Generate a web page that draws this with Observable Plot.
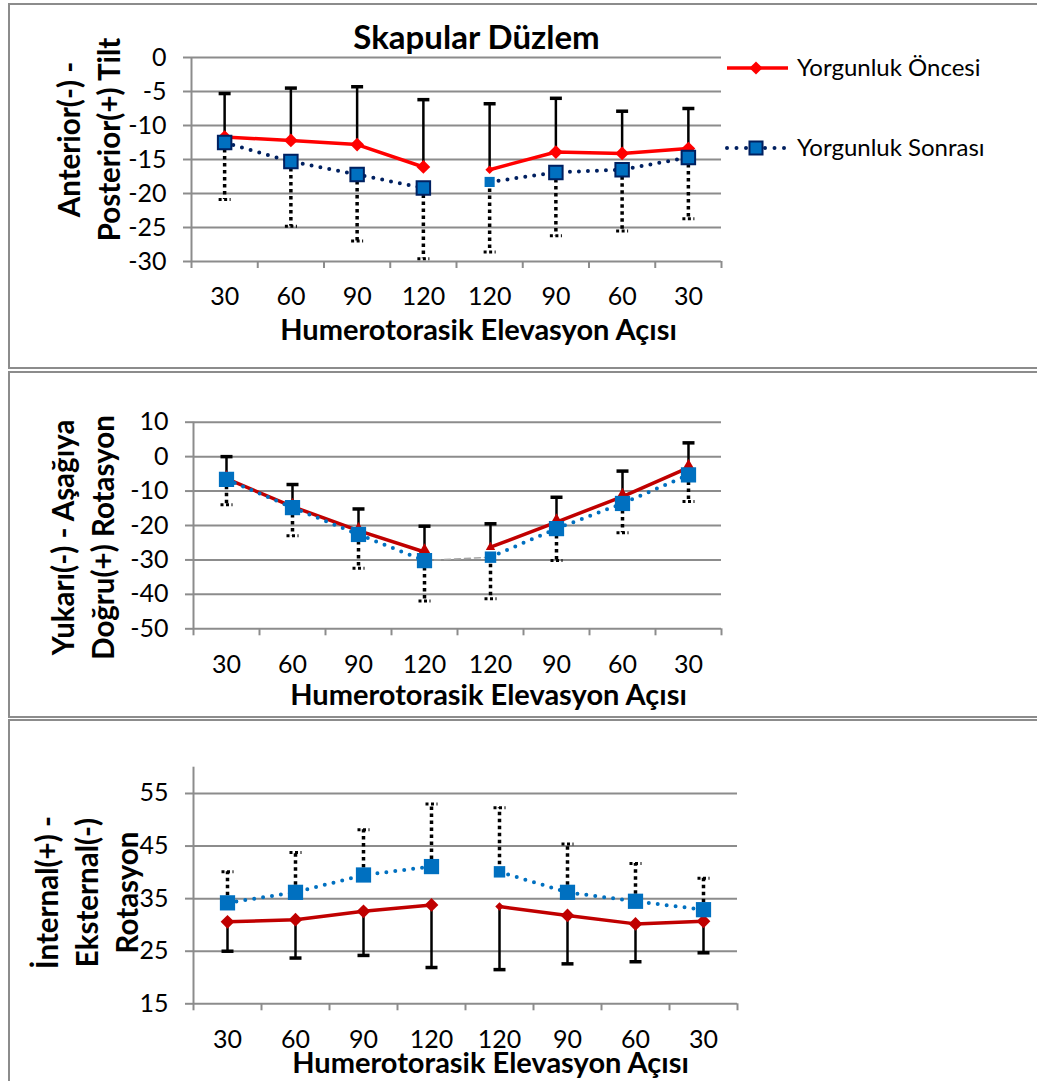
<!DOCTYPE html>
<html><head><meta charset="utf-8">
<script src="https://cdn.jsdelivr.net/npm/d3@7"></script>
<script src="https://cdn.jsdelivr.net/npm/@observablehq/plot@0.6"></script>
<style>
html,body{margin:0;padding:0;background:#fff;overflow:hidden;width:1037px;height:1081px;}
#root{position:relative;width:1037px;height:1081px;font-family:Lato,sans-serif;overflow:hidden;}
#root svg{position:absolute;left:0;overflow:visible;}
.frame{position:absolute;left:8px;width:1100px;border:2px solid #8c8c8c;box-sizing:border-box;pointer-events:none;}
</style></head><body><div id="root"></div>
<script>
// ---- data ----
const xLabels = ["30","60","90","120","120","90","60","30"];
const seriesNames = ["Yorgunluk Öncesi","Yorgunluk Sonrası"];
const chartTitle = "Skapular Düzlem";
const xTitle = "Humerotorasik Elevasyon Açısı";

// Panel 1: Anterior(-) - Posterior(+) Tilt
const tiltPre    = [-11.7, -12.2, -12.8, -16.1, -16.5, -13.9, -14.1, -13.4];
const tiltPreSD  = [6.4, 7.7, 8.5, 9.9, 9.7, 7.9, 6.2, 5.9];
const tiltPost   = [-12.5, -15.3, -17.2, -19.2, -18.3, -16.9, -16.5, -14.7];
const tiltPostSD = [8.4, 9.5, 9.8, 10.4, 10.3, 9.3, 9.0, 9.0];
const tiltTicks  = [0, -5, -10, -15, -20, -25, -30];

// Panel 2: Yukarı(-) - Aşağıya Doğru(+) Rotasyon
const rotPre    = [-6.4, -14.5, -21.5, -27.7, -26.3, -19.0, -11.6, -3.2];
const rotPreSD  = [6.4, 6.4, 6.3, 7.5, 6.8, 7.2, 7.4, 7.2];
const rotPost   = [-6.6, -14.8, -22.6, -30.2, -29.2, -20.9, -13.6, -5.3];
const rotPostSD = [7.4, 8.2, 9.8, 11.7, 12.1, 9.3, 8.5, 7.7];
const rotTicks  = [10, 0, -10, -20, -30, -40, -50];

// Panel 3: İnternal(+) - Eksternal(-) Rotasyon
const intPre    = [30.6, 31.0, 32.6, 33.8, 33.5, 31.8, 30.2, 30.7];
const intPreSD  = [5.6, 7.3, 8.4, 11.9, 12.0, 9.2, 7.2, 6.0];
const intPost   = [34.2, 36.2, 39.5, 41.1, 40.1, 36.2, 34.5, 32.9];
const intPostSD = [5.9, 7.6, 8.6, 11.9, 12.2, 9.2, 7.2, 6.0];
const intTicks  = [55, 45, 35, 25, 15];

// ---- drawing ----
const gray = "#8c8c8c";
const FONT = "Lato, 'Open Sans', sans-serif";
const TICK = 25, AXT = 29, YT = 29.5;
const hbar = {draw(ctx, size){ const r = Math.sqrt(size / Math.PI); ctx.moveTo(-r, 0); ctx.lineTo(r, 0); }};

function rows(pre, preSD, post, postSD){
  return xLabels.map((label, i) => ({i, label, x: i + 0.5, seg: i < 4 ? "up" : "down",
    pre: pre[i], preSD: preSD[i], post: post[i], postSD: postSD[i]}));
}

function panel(cfg){
  const data = rows(cfg.pre, cfg.preSD, cfg.post, cfg.postSD);
  const preEnd = d => d.pre + cfg.preDir * d.preSD;
  const postEnd = d => d.post + cfg.postDir * d.postSD;
  const main = d => d.i !== 4, turn = d => d.i === 4;
  const marks = [
    Plot.gridY(cfg.yTicks, {stroke: gray, strokeOpacity: 1, strokeWidth: 2}),
    Plot.ruleX([0], {stroke: gray, strokeWidth: 2}),
    Plot.axisY(cfg.yTicks, {tickSize: 8, tickPadding: 17, stroke: gray, strokeWidth: 2, strokeOpacity: 1, fill: "black",
      fontSize: TICK, tickFormat: d => String(d), label: null}),
    Plot.axisX(d3.range(9), {tickSize: 7, tickFormat: () => "", stroke: gray, strokeWidth: 2, strokeOpacity: 1, label: null}),
    Plot.axisX(data.map(d => d.x), {tickSize: 0, tickPadding: 26, tickFormat: v => xLabels[Math.floor(v)], fill: "black", fontSize: TICK, label: null}),
    // error bars
    Plot.ruleX(data, {x: "x", y1: "pre", y2: preEnd, stroke: "black", strokeWidth: 2.5}),
    Plot.dot(data, {x: "x", y: preEnd, symbol: hbar, r: 6, stroke: "black", strokeWidth: 3.5}),
    Plot.ruleX(data, {x: "x", y1: "post", y2: postEnd, stroke: "black", strokeWidth: 3.5, strokeDasharray: "3.5,3.5"}),
    Plot.dot(data, {x: "x", y: postEnd, symbol: hbar, r: 6, stroke: "black", strokeWidth: 3, strokeDasharray: "3,2.5"}),
  ];
  if (cfg.connector) marks.push(Plot.line(data.filter(d => d.i === 3 || d.i === 4), {x: "x", y: "post", stroke: "#a6a6a6", strokeWidth: 1.5, strokeDasharray: "6,4"}));
  marks.push(
    Plot.line(data, {x: "x", y: "pre", z: "seg", stroke: cfg.preColor, strokeWidth: 3.5}),
    Plot.dot(data, {filter: main, x: "x", y: "pre", symbol: cfg.preSymbol, r: cfg.preR, fill: cfg.preColor, stroke: "none"}),
    Plot.dot(data, {filter: turn, x: "x", y: "pre", symbol: cfg.preSymbol, r: cfg.preR * 0.62, fill: cfg.preColor, stroke: "none"}),
    Plot.line(data, {x: "x", y: "post", z: "seg", stroke: cfg.postLine, strokeWidth: 4, strokeDasharray: "0,9", strokeLinecap: "round"}),
    Plot.dot(data, {filter: main, x: "x", y: "post", symbol: "square", r: cfg.postR, fill: "#0070C0", stroke: cfg.postStroke, strokeWidth: 2}),
    Plot.dot(data, {filter: turn, x: "x", y: "post", symbol: "square", r: cfg.postR * 0.75, fill: "#0070C0", stroke: "none"}),
    Plot.text([cfg.yTitle], {frameAnchor: "left", text: d => d, rotate: -90, dx: cfg.yTitleDx, dy: cfg.yTitleDy,
      fontSize: YT, fontWeight: "bold", lineHeight: 40 / YT, lineAnchor: "middle", textAnchor: "middle", fill: "black"}),
    Plot.text([xTitle], {frameAnchor: "bottom", text: d => d, dx: cfg.xTitleDx, dy: cfg.xTitleDy,
      fontSize: AXT, fontWeight: "bold", lineAnchor: "middle", fill: "black"})
  );
  if (cfg.title) marks.push(Plot.text([cfg.title], {frameAnchor: "top", text: d => d, dx: 20, dy: -19,
      fontSize: 33, fontWeight: "bold", lineAnchor: "middle", fill: "black"}));
  const svg = Plot.plot({
    width: 1037, height: cfg.height,
    marginLeft: cfg.ml, marginRight: cfg.mr, marginTop: cfg.mt, marginBottom: cfg.mb,
    x: {type: "linear", domain: [0, 8]},
    y: {domain: cfg.yDomain},
    style: {fontFamily: FONT, fontSize: TICK + "px", color: "black", background: "transparent", overflow: "visible"},
    marks
  });
  svg.style.top = cfg.top + "px";
  return svg;
}

const root = document.getElementById("root");

root.appendChild(panel({top: 0, height: 370, ml: 191, mr: 316, mt: 57, mb: 109,
  yDomain: [-30, 0], yTicks: tiltTicks, pre: tiltPre, preSD: tiltPreSD, post: tiltPost, postSD: tiltPostSD,
  preDir: 1, postDir: -1, preColor: "#FF0000", preSymbol: "diamond2", preR: 6.2,
  postLine: "#002060", postStroke: "#002060", postR: 7.6,
  yTitle: "Anterior(-) -\nPosterior(+) Tilt", yTitleDx: -104, yTitleDy: -20,
  xTitleDx: 22, xTitleDy: 69, title: chartTitle}));

root.appendChild(panel({top: 370, height: 348, ml: 193, mr: 316, mt: 51.7, mb: 89.7,
  yDomain: [-50, 10], yTicks: rotTicks, pre: rotPre, preSD: rotPreSD, post: rotPost, postSD: rotPostSD,
  preDir: 1, postDir: -1, preColor: "#C00000", preSymbol: "triangle", preR: 5.6,
  postLine: "#0070C0", postStroke: "none", postR: 8.6, connector: true,
  yTitle: "Yukarı(-) - Aşağıya\nDoğru(+) Rotasyon", yTitleDx: -112.5, yTitleDy: 12,
  xTitleDx: 31, xTitleDy: 66.7}));

root.appendChild(panel({top: 718, height: 363, ml: 193, mr: 300, mt: 48.7, mb: 77.7,
  yDomain: [15, 60], yTicks: intTicks, pre: intPre, preSD: intPreSD, post: intPost, postSD: intPostSD,
  preDir: -1, postDir: 1, preColor: "#C00000", preSymbol: "diamond2", preR: 6.2,
  postLine: "#0070C0", postStroke: "none", postR: 8.6,
  yTitle: "İnternal(+) -\nEksternal(-)\nRotasyon", yTitleDx: -108, yTitleDy: 7,
  xTitleDx: 25, xTitleDy: 60}));

// legend (panel 1)
const leg = d3.create("svg").attr("width", 1037).attr("height", 370).style("top", "0px").style("pointer-events", "none");
const items = [
  {name: seriesNames[0], y: 68, line: "#FF0000", dash: null, sym: d3.symbolDiamond2, size: 110, fill: "#FF0000", stroke: "none"},
  {name: seriesNames[1], y: 148, line: "#002060", dash: "0,9.5", sym: d3.symbolSquare, size: 170, fill: "#0070C0", stroke: "#002060"}
];
for (const it of items){
  const g = leg.append("g");
  g.append("line").attr("x1", 727).attr("x2", 788).attr("y1", it.y).attr("y2", it.y)
    .attr("stroke", it.line).attr("stroke-width", it.dash ? 4 : 3.5)
    .attr("stroke-dasharray", it.dash).attr("stroke-linecap", it.dash ? "round" : "butt");
  g.append("path").attr("d", d3.symbol(it.sym, it.size)()).attr("transform", `translate(756,${it.y})`)
    .attr("fill", it.fill).attr("stroke", it.stroke).attr("stroke-width", 2);
  g.append("text").attr("x", 797).attr("y", it.y).attr("dy", "0.35em").attr("font-family", FONT)
    .attr("font-size", 24).attr("fill", "black").text(it.name);
}
root.appendChild(leg.node());

// panel frames
for (const f of [{top: 3, h: 366}, {top: 371, h: 347}, {top: 719, h: 400}]){
  const d = document.createElement("div");
  d.className = "frame"; d.style.top = f.top + "px"; d.style.height = f.h + "px";
  root.appendChild(d);
}
</script></body></html>
